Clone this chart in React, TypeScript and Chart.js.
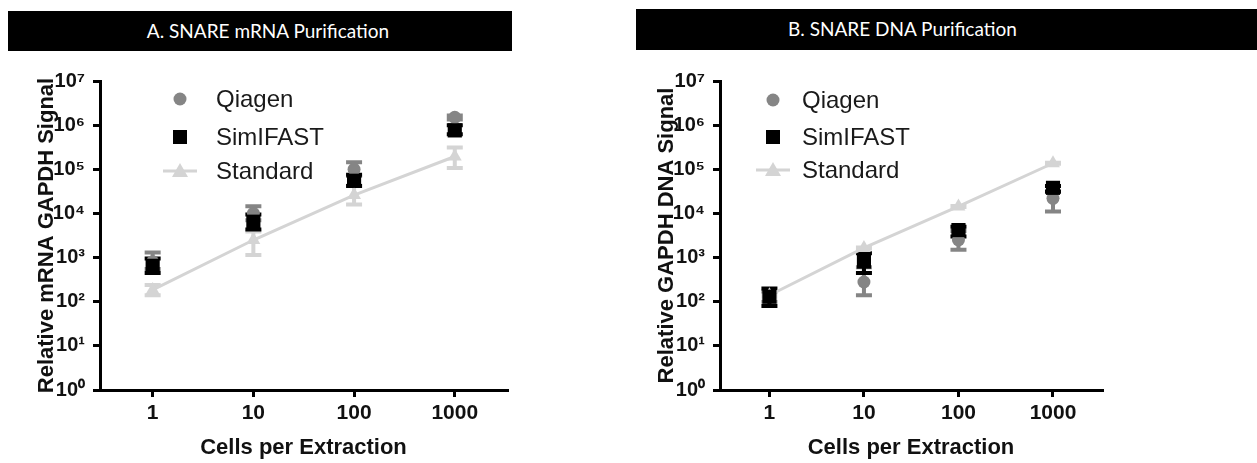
import React, { useEffect, useRef } from "react";
import { Chart, registerables } from "chart.js";

Chart.register(...registerables);

// ---------- DATA ----------
const cells = [1, 10, 100, 1000];
const xTickValues = [1, 10, 100, 1000];
const yTickValues = [1, 10, 100, 1e3, 1e4, 1e5, 1e6, 1e7];
const seriesNames = ["Qiagen", "SimIFAST", "Standard"];

// Panel A – SNARE mRNA Purification
const qiagenA = [800, 10000, 100000, 1500000];
const qiagenAHi = [1300, 14500, 145000, 1650000];
const qiagenALo = [550, 7000, 70000, 1350000];
const simA = [650, 6500, 55000, 760000];
const simAHi = [950, 9500, 75000, 1000000];
const simALo = [450, 4300, 42000, 620000];
const stdA = [185, 2500, 26000, 195000];
const stdAHi = [240, 3900, 43000, 310000];
const stdALo = [140, 1150, 16000, 107000];

// Panel B – SNARE DNA Purification
const qiagenB = [130, 280, 2500, 22000];
const qiagenBHi = [170, 600, 4000, 32000];
const qiagenBLo = [100, 140, 1500, 11000];
const simB = [130, 810, 4200, 38000];
const simBHi = [200, 1250, 5000, 42000];
const simBLo = [80, 450, 3000, 31000];
const stdB = [140, 1650, 14400, 137000];
const stdBHi = [150, 1700, 14800, 140000];
const stdBLo = [130, 1600, 14000, 134000];

const titleA = "A. SNARE mRNA Purification";
const titleB = "B. SNARE DNA Purification";
const yTitleA = "Relative mRNA GAPDH Signal";
const yTitleB = "Relative GAPDH DNA Signal";
const xTitle = "Cells per Extraction";

// ---------- STYLE ----------
const colQiagen = "#858585";
const colSim = "#000000";
const colStd = "#d4d4d4";
const FONT = "'Liberation Sans', Arial, sans-serif";

const SUP: Record<string, string> = {
  "0": "\u2070", "1": "\u00b9", "2": "\u00b2", "3": "\u00b3", "4": "\u2074",
  "5": "\u2075", "6": "\u2076", "7": "\u2077", "8": "\u2078", "9": "\u2079",
};

const toPts = (ys: number[]) => cells.map((x, i) => ({ x, y: ys[i] }));

const errorBarPlugin = {
  id: "errorBars",
  beforeDatasetsDraw(chart: any) {
    const { ctx } = chart;
    const xs = chart.scales.x;
    const ys = chart.scales.y;
    const sets = [...chart.data.datasets].sort((a: any, b: any) => b.order - a.order);
    sets.forEach((ds: any) => {
      const eb = ds.errorBars;
      if (!eb) return;
      ctx.save();
      ctx.strokeStyle = ds.errColor;
      ctx.lineWidth = 4;
      ds.data.forEach((p: any, j: number) => {
        const x = xs.getPixelForValue(p.x);
        const yh = ys.getPixelForValue(eb.hi[j]);
        const yl = ys.getPixelForValue(eb.lo[j]);
        ctx.beginPath();
        ctx.moveTo(x, yh);
        ctx.lineTo(x, yl);
        ctx.moveTo(x - 8, yh);
        ctx.lineTo(x + 8, yh);
        ctx.moveTo(x - 8, yl);
        ctx.lineTo(x + 8, yl);
        ctx.stroke();
      });
      ctx.restore();
    });
  },
};

const legendPlugin = {
  id: "customLegend",
  afterDraw(chart: any, _args: any, opts: any) {
    const { ctx } = chart;
    const { markerX, textX, rows, names } = opts;
    ctx.save();
    ctx.font = `24px ${FONT}`;
    ctx.textBaseline = "middle";
    ctx.textAlign = "left";
    ctx.fillStyle = colQiagen;
    ctx.beginPath();
    ctx.arc(markerX, rows[0], 6.5, 0, Math.PI * 2);
    ctx.fill();
    ctx.fillStyle = colSim;
    ctx.fillRect(markerX - 7, rows[1] - 7, 14, 14);
    ctx.strokeStyle = colStd;
    ctx.lineWidth = 3;
    ctx.beginPath();
    ctx.moveTo(markerX - 17, rows[2]);
    ctx.lineTo(markerX + 17, rows[2]);
    ctx.stroke();
    ctx.fillStyle = colStd;
    ctx.beginPath();
    ctx.moveTo(markerX, rows[2] - 8);
    ctx.lineTo(markerX + 8, rows[2] + 6);
    ctx.lineTo(markerX - 8, rows[2] + 6);
    ctx.closePath();
    ctx.fill();
    ctx.fillStyle = "#1a1a1a";
    names.forEach((n: string, i: number) => ctx.fillText(n, textX, rows[i] + 1));
    ctx.restore();
  },
};

function buildConfig(
  q: number[], qHi: number[], qLo: number[],
  s: number[], sHi: number[], sLo: number[],
  st: number[], stHi: number[], stLo: number[],
  yTitle: string, legendOpts: any
): any {
  return {
    type: "line",
    data: {
      datasets: [
        {
          label: seriesNames[1],
          data: toPts(s),
          showLine: false,
          pointStyle: "rect",
          pointRadius: 10,
          backgroundColor: colSim,
          borderColor: colSim,
          borderWidth: 0,
          errColor: colSim,
          errorBars: { hi: sHi, lo: sLo },
          order: 0,
        },
        {
          label: seriesNames[0],
          data: toPts(q),
          showLine: false,
          pointStyle: "circle",
          pointRadius: 6.5,
          backgroundColor: colQiagen,
          borderColor: colQiagen,
          borderWidth: 0,
          errColor: colQiagen,
          errorBars: { hi: qHi, lo: qLo },
          order: 1,
        },
        {
          label: seriesNames[2],
          data: toPts(st),
          showLine: true,
          tension: 0,
          pointStyle: "triangle",
          pointRadius: 8,
          backgroundColor: colStd,
          borderColor: colStd,
          borderWidth: 3,
          pointBorderWidth: 0,
          errColor: colStd,
          errorBars: { hi: stHi, lo: stLo },
          order: 2,
        },
      ],
    },
    options: {
      responsive: false,
      animation: false,
      layout: { padding: { top: 26, right: legendOpts.rightPad, left: 0, bottom: 0 } },
      plugins: {
        legend: { display: false },
        tooltip: { enabled: false },
        customLegend: legendOpts,
      },
      scales: {
        x: {
          type: "logarithmic",
          min: 0.31,
          max: 3300,
          afterBuildTicks: (sc: any) => {
            sc.ticks = xTickValues.map((v) => ({ value: v }));
          },
          afterFit: (sc: any) => {
            sc.height = 73;
          },
          ticks: {
            color: "#111",
            font: { family: FONT, size: 21, weight: "bold" },
            padding: 4,
            maxRotation: 0,
            autoSkip: false,
            callback: (v: any) => String(v),
          },
          grid: { drawOnChartArea: false, drawTicks: true, tickLength: 7, color: "#000", lineWidth: 3 },
          border: { display: true, color: "#000", width: 3 },
          title: {
            display: true,
            text: xTitle,
            color: "#111",
            font: { family: FONT, size: 22, weight: "bold" },
            padding: { top: 0, bottom: 2 },
          },
        },
        y: {
          type: "logarithmic",
          min: 1,
          max: 1e7,
          afterBuildTicks: (sc: any) => {
            sc.ticks = yTickValues.map((v) => ({ value: v }));
          },
          afterFit: (sc: any) => {
            sc.width = 100;
          },
          ticks: {
            color: "#111",
            font: { family: FONT, size: 20, weight: "bold" },
            padding: 8,
            autoSkip: false,
            callback: (v: any) => {
              const e = String(Math.round(Math.log10(Number(v))));
              return "10" + e.split("").map((c) => SUP[c]).join("");
            },
          },
          grid: { drawOnChartArea: false, drawTicks: true, tickLength: 7, color: "#000", lineWidth: 3 },
          border: { display: true, color: "#000", width: 3 },
          title: {
            display: true,
            text: yTitle,
            color: "#111",
            font: { family: FONT, size: 22, weight: "bold" },
            padding: { top: 34, bottom: 0 },
          },
        },
      },
    },
    plugins: [errorBarPlugin, legendPlugin],
  };
}

function Panel(props: { left: number; width: number; config: any }) {
  const ref = useRef<HTMLCanvasElement>(null);
  useEffect(() => {
    if (!ref.current) return;
    const chart = new Chart(ref.current, props.config);
    return () => chart.destroy();
  }, []);
  return (
    <canvas
      ref={ref}
      width={props.width}
      height={408}
      style={{ position: "absolute", left: props.left, top: 55, width: props.width, height: 408 }}
    />
  );
}

const barText: React.CSSProperties = {
  color: "#fff",
  fontFamily: "Lato, 'Open Sans', sans-serif",
  fontSize: 19,
  lineHeight: "40px",
  whiteSpace: "nowrap",
};

export default function App() {
  const cfgA = buildConfig(
    qiagenA, qiagenAHi, qiagenALo, simA, simAHi, simALo, stdA, stdAHi, stdALo, yTitleA,
    { markerX: 180, textX: 216, rows: [44, 82, 116], names: seriesNames, rightPad: 13 }
  );
  const cfgB = buildConfig(
    qiagenB, qiagenBHi, qiagenBLo, simB, simBHi, simBLo, stdB, stdBHi, stdBLo, yTitleB,
    { markerX: 153, textX: 182, rows: [45, 82, 115], names: seriesNames, rightPad: 155 }
  );
  return (
    <div
      style={{
        position: "absolute", left: 0, top: 0, width: 1257, height: 463,
        background: "#fff", overflow: "hidden",
      }}
    >
      <div
        style={{
          ...barText, position: "absolute", left: 8, top: 11, width: 504, height: 40,
          background: "#000", textAlign: "center", boxSizing: "border-box", paddingLeft: 16,
        }}
      >
        {titleA}
      </div>
      <div
        style={{
          ...barText, position: "absolute", left: 636, top: 9, width: 621, height: 41,
          background: "#000", boxSizing: "border-box", paddingLeft: 152,
        }}
      >
        {titleB}
      </div>
      <Panel left={0} width={520} config={cfgA} />
      <Panel left={620} width={637} config={cfgB} />
    </div>
  );
}
